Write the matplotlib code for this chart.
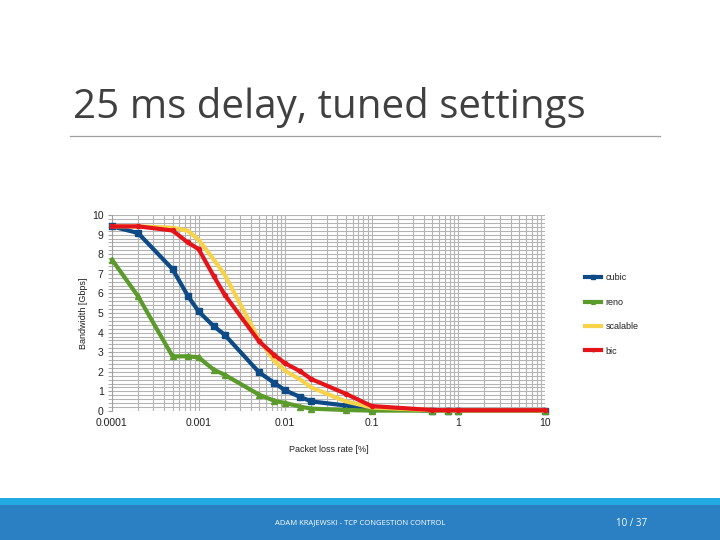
import matplotlib
matplotlib.use("Agg")
import matplotlib.pyplot as plt
from matplotlib.ticker import LogLocator, MultipleLocator, FixedLocator, FixedFormatter

# Data
loss_rate = [0.0001, 0.0002, 0.0005, 0.00075, 0.001, 0.0015, 0.002, 0.005,
             0.0075, 0.01, 0.015, 0.02, 0.05, 0.1, 0.5, 0.75, 1, 10]
cubic = [9.42, 9.08, 7.24, 5.88, 5.08, 4.32, 3.89, 1.97,
         1.43, 1.05, 0.71, 0.49, 0.28, 0.12, 0.02, 0.02, 0.02, 0.02]
reno = [7.72, 5.85, 2.79, 2.79, 2.74, 2.10, 1.85, 0.83,
        0.52, 0.41, 0.22, 0.12, 0.05, 0.02, 0.02, 0.02, 0.02, 0.02]
scalable = [9.42, 9.42, 9.35, 9.20, 8.74, 7.72, 6.95, 3.64,
            2.55, 2.05, 1.60, 1.20, 0.49, 0.18, 0.04, 0.03, 0.03, 0.03]
bic = [9.42, 9.42, 9.21, 8.60, 8.26, 6.87, 5.93, 3.55,
       2.85, 2.43, 2.02, 1.63, 0.88, 0.25, 0.05, 0.04, 0.04, 0.04]

# name, values, colour, marker, marker size
series = [
    ("cubic", cubic, "#0d4a86", "s", 4.5),
    ("reno", reno, "#5b9b2c", "^", 4.5),
    ("scalable", scalable, "#f6d34a", None, 0),
    ("bic", bic, "#e3141a", "o", 3),
]

x_ticks = [0.0001, 0.001, 0.01, 0.1, 1, 10]
x_labels = ["0.0001", "0.001", "0.01", "0.1", "1", "10"]
y_ticks = list(range(0, 11))

plt.rcParams['font.family'] = ['Liberation Sans', 'DejaVu Sans']

fig = plt.figure(figsize=(7.2, 5.4), dpi=100)
fig.patch.set_facecolor("white")

# slide title and rule
fig.text(73 / 720, 1 - 108 / 540, "25 ms delay, tuned settings", fontsize=29,
         family=['Open Sans', 'DejaVu Sans'], color="#404040", va="center", ha="left")
fig.add_artist(plt.Line2D([70 / 720, 660 / 720], [1 - 136 / 540, 1 - 136 / 540],
                          color="#a0a0a0", lw=0.9))

# footer bar
fig.add_artist(plt.Rectangle((0, 0), 1, 35 / 540, color="#2a80c2", lw=0))
fig.add_artist(plt.Rectangle((0, 35 / 540), 1, 7 / 540, color="#22a9e1", lw=0))
fig.text(360 / 720, 1 - 523 / 540, "ADAM KRAJEWSKI - TCP CONGESTION CONTROL",
         fontsize=5.5, color="white", ha="center", va="center",
         family=['Open Sans', 'DejaVu Sans'])
fig.text(632 / 720, 1 - 523 / 540, "10 / 37", fontsize=7, color="white",
         ha="center", va="center", family=['Open Sans', 'DejaVu Sans'])

ax = fig.add_axes([112 / 720, 1 - 411 / 540, 433 / 720, 196 / 540])
ax.set_xscale("log")
ax.set_xlim(0.0001, 10)
ax.set_ylim(0, 10)

ax.xaxis.set_major_locator(FixedLocator(x_ticks))
ax.xaxis.set_major_formatter(FixedFormatter(x_labels))
ax.xaxis.set_minor_locator(LogLocator(base=10, subs=range(2, 10)))
ax.xaxis.set_minor_formatter(plt.NullFormatter())
ax.yaxis.set_major_locator(FixedLocator(y_ticks))
ax.yaxis.set_minor_locator(MultipleLocator(0.2))

ax.grid(True, which="both", color="#b4b4b4", lw=0.8)
ax.set_axisbelow(True)
for s in ["top", "right", "bottom"]:
    ax.spines[s].set_visible(False)
ax.spines["left"].set_color("#a0a0a0")
ax.tick_params(axis="y", which="both", length=3, color="#a0a0a0",
               labelsize=7.5, labelcolor="#202020", pad=3)
ax.tick_params(axis="x", which="both", length=0, labelsize=7.5,
               labelcolor="#202020", pad=5)

for name, vals, col, mk, ms in series:
    ax.plot(loss_rate, vals, color=col, lw=3, marker=mk, markersize=ms,
            label=name, clip_on=False, zorder=3)

ax.set_xlabel("Packet loss rate [%]", fontsize=6.5, color="#202020", labelpad=12)
ax.set_ylabel("Bandwidth [Gbps]", fontsize=6.5, color="#202020", labelpad=3)

leg = ax.legend(loc="upper left", bbox_to_anchor=(1.085, 0.72), frameon=False,
                fontsize=6.5, handlelength=1.7, labelspacing=1.7, handletextpad=0.5,
                markerscale=0.6, borderaxespad=0)
for t in leg.get_texts():
    t.set_color("#202020")

fig.savefig("out.png", dpi=100)
